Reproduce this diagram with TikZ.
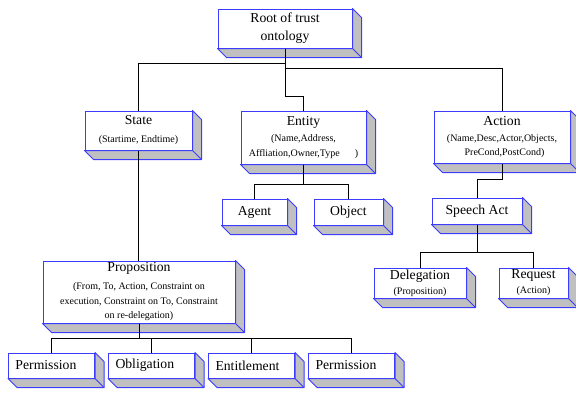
\documentclass[tikz,border=0pt]{standalone}
\usepackage{fontspec}
\setmainfont{Liberation Serif}
\usetikzlibrary{positioning}
\definecolor{boxblue}{RGB}{60,60,255}
\definecolor{boxgray}{RGB}{192,192,192}
\newcommand{\subtxt}[1]{{\fontsize{10}{14}\selectfont #1}}

\begin{document}
\begin{tikzpicture}[x=1pt, y=-1pt, node distance=13pt,
    box/.style={draw=boxblue, fill=white, line width=1pt, align=center, inner sep=0pt,
      font=\fontsize{13.7}{18}\selectfont},
    leaf/.style={box, align=left, text width=72pt, inner xsep=7pt, minimum height=25pt},
    bevel/.style={draw=boxblue, fill=boxgray, line width=1pt, line join=round},
    link/.style={draw=black, line width=0.8pt}]
  \useasboundingbox (0,0) rectangle (576,392);
  % Root
  \node (root) [box, minimum width=134pt, minimum height=39pt] at (285,28.5) {Root of trust\\ontology};
  % Second level
  \node (state) [box, minimum width=107pt, minimum height=39pt] at (138.5,130.5)
    {State\\[0pt]\subtxt{(Startime, Endtime)}};
  \node (entity) [box, minimum width=125pt, minimum height=53pt] at (303.5,137.5)
    {Entity\\[-2pt]\subtxt{(Name,Address,}\\[-3pt]\subtxt{Affliation,Owner,Type\quad\ \ )}};
  \node (action) [box, minimum width=136pt, minimum height=52pt] at (502,137)
    {Action\\[-2pt]\subtxt{(Name,Desc,Actor,Objects,}\\[-4pt]\subtxt{\ \ PreCond,PostCond)}};
  % Under Entity
  \node (agent) [box, minimum width=65pt, minimum height=26pt] at (254.5,212) {Agent};
  \node (object) [box, minimum width=69pt, minimum height=26pt, right=26pt of agent] {Object};
  % Under Action
  \node (speech) [box, minimum width=90pt, minimum height=26pt] at (477,211) {Speech Act};
  \node (deleg) [box, minimum width=92pt, minimum height=30pt] at (420,283)
    {Delegation\\[-3pt]\subtxt{(Proposition)}};
  \node (request) [box, minimum width=69pt, minimum height=30pt, right=32pt of deleg]
    {Request\\[-3pt]\subtxt{(Action)}};
  % Under State
  \node (prop) [box, minimum width=192pt, minimum height=62pt] at (139,292)
    {Proposition\\[0pt]\subtxt{(From, To, Action, Constraint on}\\[-3pt]
     \subtxt{execution, Constraint on To, Constraint}\\[-4pt]\subtxt{on re-delegation)}};
  \node (perm1) [leaf] at (51.5,365.5) {Permission};
  \node (oblig) [leaf, right=of perm1] {Obligation};
  \node (entitle) [leaf, right=of oblig] {Entitlement};
  \node (perm2) [leaf, right=of entitle] {Permission};
  % Shaded sides of the boxes
  \foreach \n in {root,state,entity,action,agent,object,speech,deleg,request,prop,perm1,oblig,entitle,perm2}{
    \draw[bevel] (\n.north east) -- ++(9,9) |- ([shift={(9,9)}]\n.south west) -- (\n.south west) -- (\n.south east) -- cycle;
    \draw[bevel] (\n.south east) -- ++(9,9);
  }
  % Links
  \draw[link] (root.south) -- ++(0,15) -| (state.north);
  \draw[link] (root.south) -- ++(0,20) -| (action.north);
  \draw[link] (root.south) -- ++(0,48) -| (entity.north);
  \draw[link] (entity.south) -- ++(0,20) -| (agent.north);
  \draw[link] (entity.south) -- ++(0,20) -| (object.north);
  \draw[link] (action.south) -- ++(0,16) -| (speech.north);
  \draw[link] (speech.south) -- ++(0,28) -| (deleg.north);
  \draw[link] (speech.south) -- ++(0,28) -| (request.north);
  \draw[link] (state.south) -- (state.south |- prop.north);
  \foreach \leaf in {perm1,oblig,entitle,perm2}
    \draw[link] (prop.south) -- ++(0,15) -| (\leaf.north);
\end{tikzpicture}
\end{document}
